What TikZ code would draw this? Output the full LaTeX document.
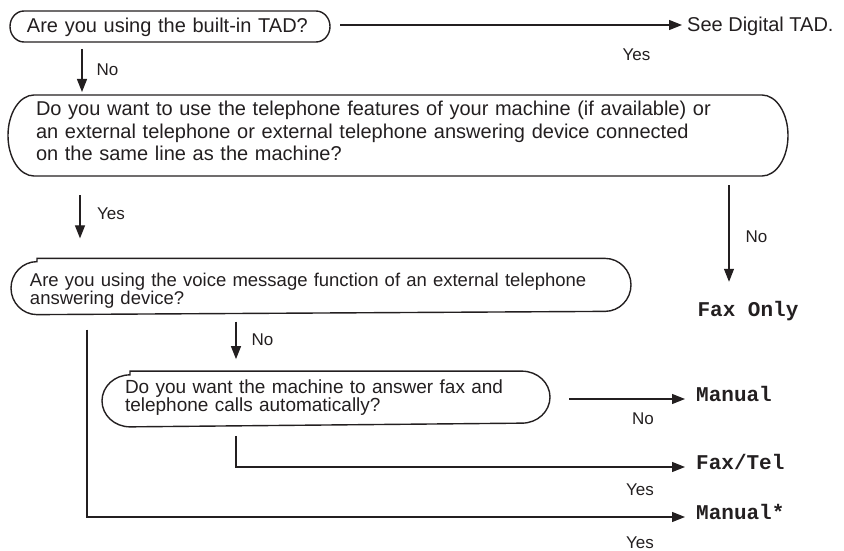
\documentclass[tikz,border=0pt]{standalone}
\usepackage{fontspec}
\setmainfont{Liberation Sans}
\newfontfamily\cour{Liberation Mono}
\usetikzlibrary{arrows.meta}
\definecolor{ink}{RGB}{35,31,32}
\newcommand\mytop[1]{\rule{0pt}{#1pt}}
\newcommand\mybot[1]{\rule[-#1pt]{0pt}{#1pt}}
% oval outline round a named box: name, end x radius, end y radius
\newcommand\ovaloutline[3]{%
  \draw[boxline] ([xshift=#2pt]#1.north west) -- ([xshift=-#2pt]#1.north east)
    arc[start angle=90, end angle=-90, x radius=#2pt, y radius=#3pt]
    -- ([xshift=#2pt]#1.south west)
    arc[start angle=270, end angle=90, x radius=#2pt, y radius=#3pt] -- cycle;}
\lineskiplimit=-100pt
\begin{document}
\begin{tikzpicture}[x=1pt,y=-1pt,
  box/.style={draw=none, outer sep=0pt, align=left, inner ysep=0pt, text=ink},
  boxline/.style={draw=ink, line width=1.4pt},
  arr/.style={draw=ink, line width=1.2pt, -{Triangle[length=13pt,width=10pt]}},
  lbl/.style={text=ink, inner sep=0pt, font=\fontsize{17}{20}\selectfont},
  term/.style={text=ink, inner sep=0pt, anchor=west, text height=12pt, text depth=8pt,
    font=\cour\bfseries\fontsize{21}{24}\selectfont},
]
\useasboundingbox (0,0) rectangle (844,551);

% boxes
\node[box, minimum width=320pt, minimum height=31pt,
  text width=286pt, inner xsep=17pt, font=\fontsize{20}{24}\selectfont]
  (b1) at (170,26.5) {\mytop{22}Are you using the built-in TAD?\mybot{9}};
\ovaloutline{b1}{14}{15.5}

\node[box, minimum width=780pt, minimum height=81pt,
  text width=724pt, inner xsep=28pt, font=\fontsize{20}{23}\selectfont]
  (b2) at (398,135.5) {\mytop{20}Do you want to use the telephone features of your machine (if available) or\\
  an external telephone or external telephone answering device connected\\
  on the same line as the machine?\mybot{15}};
\ovaloutline{b2}{26}{40.5}

\node[box, minimum width=620pt, minimum height=53pt,
  text width=582pt, inner xsep=19pt, font=\fontsize{18.5}{15}\selectfont]
  (b3) at (321,286.5) {\mytop{28}Are you using the voice message function of an external telephone\\
  answering device?\mybot{10}};
\ovaloutline{b3}{26}{26.5}

\node[box, minimum width=448pt, minimum height=52pt,
  text width=402pt, inner xsep=23pt, font=\fontsize{19}{15}\selectfont]
  (b4) at (326,399) {\mytop{22}Do you want the machine to answer fax and\\
  telephone calls automatically?\mybot{15}};
\ovaloutline{b4}{28}{26}

% terminals
\node[anchor=west, text=ink, inner sep=0pt, font=\fontsize{20}{24}\selectfont,
  text height=14pt, text depth=0pt] (see) at (687,25) {See Digital TAD.};
\node[term, anchor=base, text depth=0pt] (fax) at (748,316) {Fax Only};
\node[term] (manual) at (696,399) {Manual};
\node[term] (faxtel) at (696,467) {Fax/Tel};
\node[term] (mstar) at (696,517) {Manual*};

% helper coordinates
\coordinate (c1) at ([xshift=72pt]b1.south west);
\coordinate (c2) at ([xshift=72pt]b2.south west);
\coordinate (c3) at ([xshift=-59pt]b2.south east);
\coordinate (c4) at ([xshift=225pt]b3.south west);
\coordinate (c5) at ([xshift=134pt]b4.south west);
\coordinate (c6) at ([xshift=76pt]b3.south west);

% connectors
\draw[arr, shorten <=10pt, shorten >=5pt] (see.west -| b1.east) -- (see.west);
\draw[arr, shorten <=7pt, shorten >=3pt] (c1) -- (c1 |- b2.north);
\draw[arr, shorten <=19pt, shorten >=20pt] (c2) -- (c2 |- b3.north);
\draw[arr, shorten <=9pt, shorten >=22pt] (c3) -- (c3 |- fax.north);
\draw[arr, shorten <=7pt, shorten >=12pt] (c4) -- (c4 |- b4.north);
\draw[arr, shorten <=19pt, shorten >=11pt] (b4.east) -- (manual.west);
\draw[arr, shorten <=9pt, shorten >=11pt] (c5) |- (faxtel.west);
\draw[arr, shorten <=15pt, shorten >=11pt] (c6) |- (mstar.west);

% labels
\node[lbl] (y1) at (636.5,55) {Yes};
\node[lbl] (n1) at (107.5,70) {No};
\node[lbl] (y2) at (111,214) {Yes};
\node[lbl] (n2) at (756.5,237) {No};
\node[lbl] (n3) at (262.5,340) {No};
\node[lbl] (n4) at (643,419) {No};
\node[lbl] (y3) at (640,490) {Yes};
\node[lbl] (y4) at (640,543) {Yes};
\end{tikzpicture}
\end{document}
